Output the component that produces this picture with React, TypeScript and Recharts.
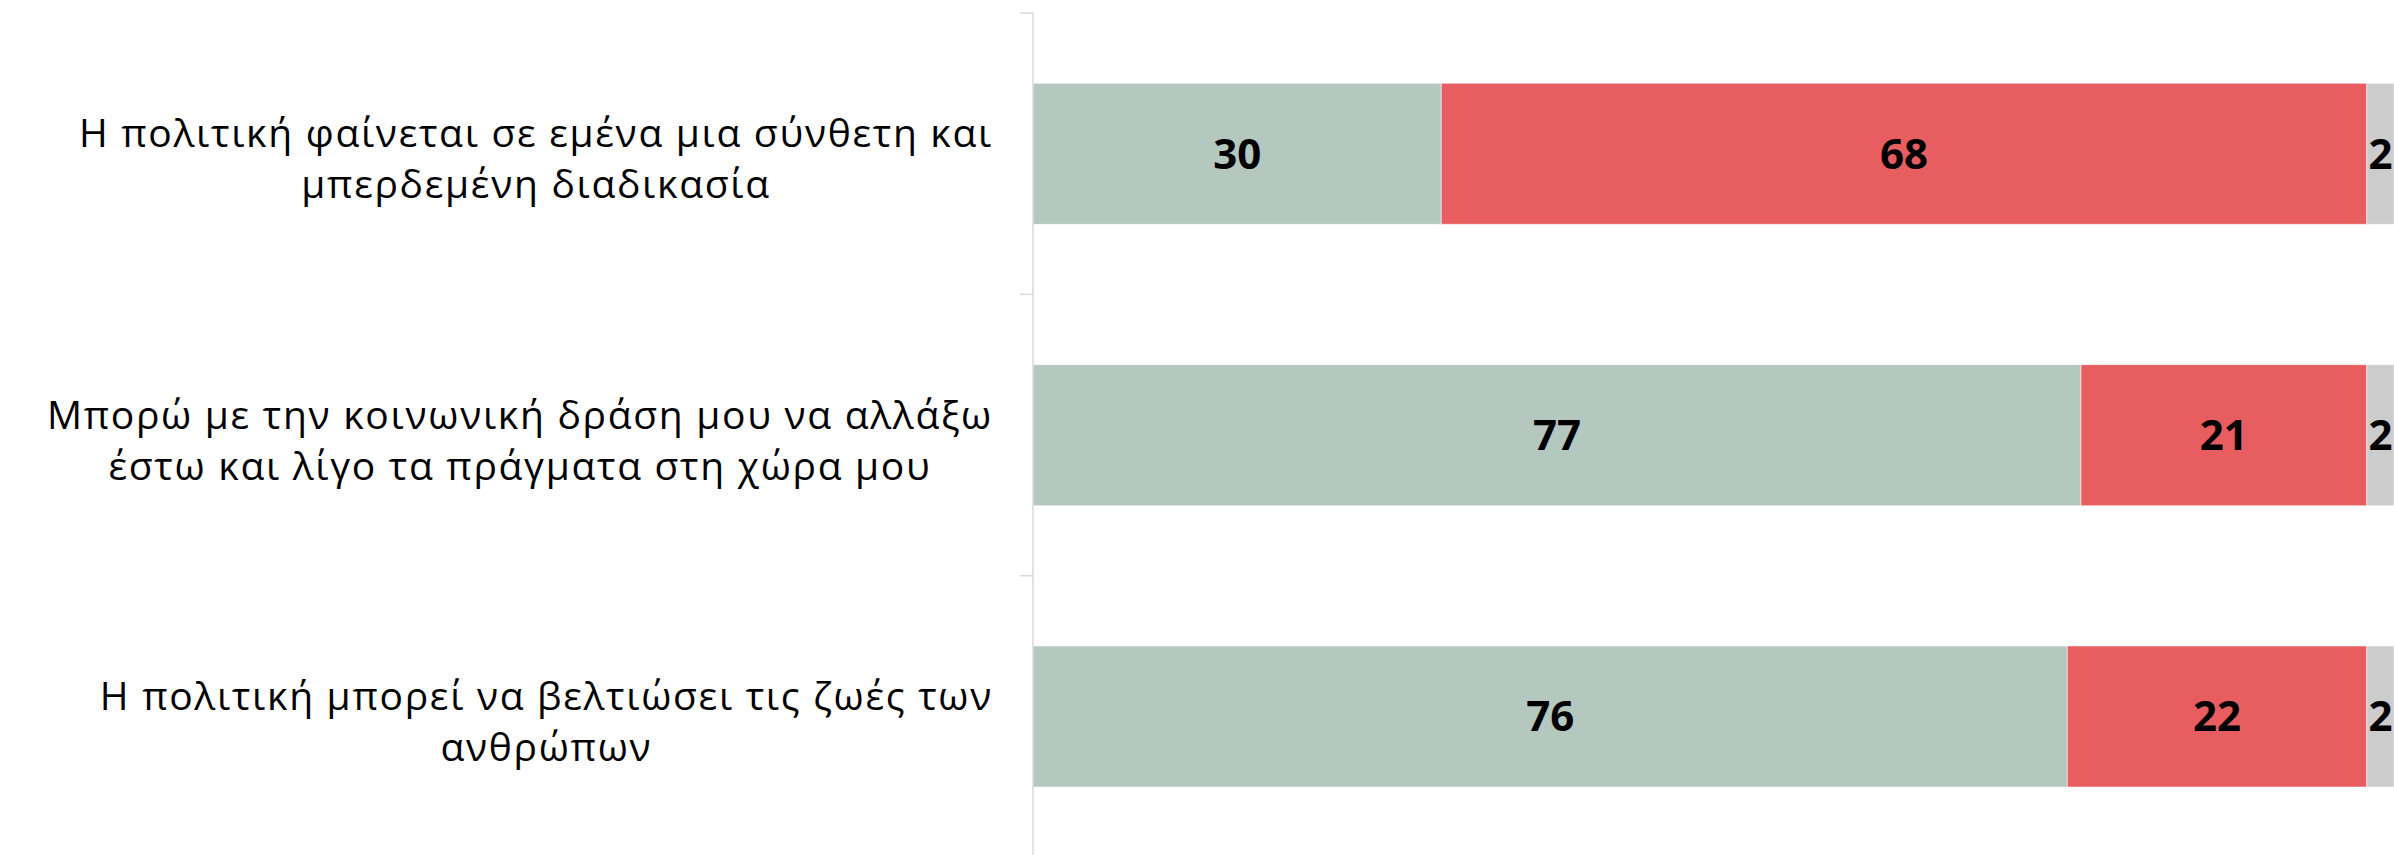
import { BarChart, Bar, XAxis, YAxis, LabelList } from "recharts";

// statements (line breaks as in the source chart)
const categories = [
  "Η πολιτική φαίνεται σε εμένα μια σύνθετη και\nμπερδεμένη διαδικασία",
  "Μπορώ με την κοινωνική δράση μου να αλλάξω\nέστω και λίγο τα πράγματα στη χώρα μου",
  "Η πολιτική μπορεί να βελτιώσει τις ζωές των\nανθρώπων",
];
const agree = [30, 77, 76];
const disagree = [68, 21, 22];
const dontKnow = [2, 2, 2];

const data = categories.map((name, i) => ({
  name,
  agree: agree[i],
  disagree: disagree[i],
  dontKnow: dontKnow[i],
}));

const WIDTH = 2394;
const HEIGHT = 860;
const MARGIN = { top: 13, right: 0, bottom: 3, left: 0 };
const AXIS_WIDTH = 1033;
const BAND = (HEIGHT - MARGIN.top - MARGIN.bottom) / categories.length;
const FONT = '"Open Sans", sans-serif';
const TICK_SIZE = 39;
const TRACKING = 1.7;
const LINE_GAP = 51;
const AXIS_COLOR = "#d9d9d9";

let ctx: CanvasRenderingContext2D | null = null;
const measure = (s: string) => {
  if (!ctx) ctx = document.createElement("canvas").getContext("2d");
  if (!ctx) return s.length * TICK_SIZE * 0.5;
  ctx.font = `${TICK_SIZE}px ${FONT}`;
  return ctx.measureText(s).width + s.length * TRACKING;
};

const CategoryTick = (props: any) => {
  const { y, payload, index } = props;
  const lines = String(payload.value).split("\n");
  const right = AXIS_WIDTH - 40;
  const cx = right - Math.max(...lines.map(measure)) / 2;
  const top = y - BAND / 2;
  return (
    <g>
      <line x1={AXIS_WIDTH - 13} x2={AXIS_WIDTH} y1={top} y2={top} stroke={AXIS_COLOR} strokeWidth={1.5} />
      {index === categories.length - 1 && (
        <line
          x1={AXIS_WIDTH - 13}
          x2={AXIS_WIDTH}
          y1={y + BAND / 2}
          y2={y + BAND / 2}
          stroke={AXIS_COLOR}
          strokeWidth={1.5}
        />
      )}
      {lines.map((l, i) => (
        <text
          key={i}
          x={cx}
          y={y + (i - (lines.length - 1) / 2) * LINE_GAP + 19}
          textAnchor="middle"
          fontSize={TICK_SIZE}
          fontFamily={FONT}
          style={{ letterSpacing: TRACKING }}
          fill="#000"
        >
          {l}
        </text>
      ))}
    </g>
  );
};

const valueLabel = {
  position: "center" as const,
  fill: "#000",
  fontSize: 42,
  fontWeight: 700,
  fontFamily: FONT,
};

export default function App() {
  return (
    <div
      style={{
        position: "fixed",
        top: 0,
        left: 0,
        width: WIDTH,
        height: 855,
        overflow: "hidden",
        background: "#fff",
      }}
    >
      <BarChart
        width={WIDTH}
        height={HEIGHT}
        data={data}
        layout="vertical"
        margin={MARGIN}
        barCategoryGap="25%"
      >
        <XAxis type="number" domain={[0, 100]} hide />
        <YAxis
          type="category"
          dataKey="name"
          width={AXIS_WIDTH}
          axisLine={{ stroke: AXIS_COLOR, strokeWidth: 1.5 }}
          tickLine={false}
          tick={<CategoryTick />}
        />
        <Bar dataKey="agree" stackId="a" fill="#b4c8bf" stroke="#fff" strokeOpacity={0.5} isAnimationActive={false}>
          <LabelList dataKey="agree" {...valueLabel} />
        </Bar>
        <Bar dataKey="disagree" stackId="a" fill="#e85d5f" stroke="#fff" strokeOpacity={0.5} isAnimationActive={false}>
          <LabelList dataKey="disagree" {...valueLabel} />
        </Bar>
        <Bar dataKey="dontKnow" stackId="a" fill="#cccccc" stroke="#fff" strokeOpacity={0.5} isAnimationActive={false}>
          <LabelList dataKey="dontKnow" {...valueLabel} />
        </Bar>
      </BarChart>
    </div>
  );
}
